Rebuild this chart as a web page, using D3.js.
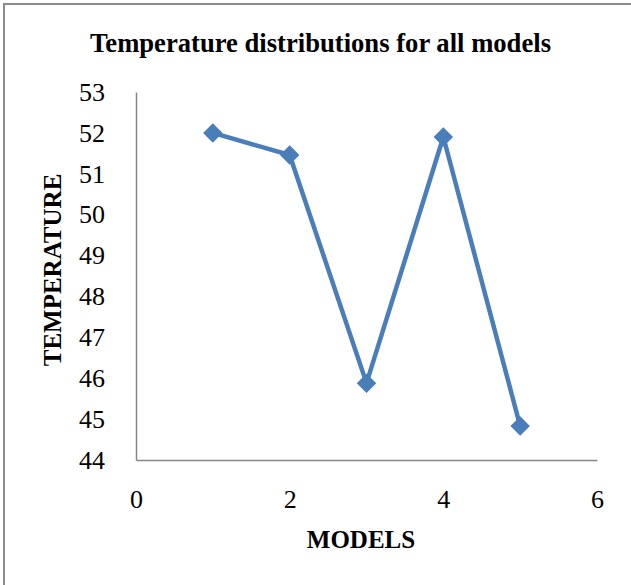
<!DOCTYPE html>
<html>
<head>
<meta charset="utf-8">
<script src="https://cdn.jsdelivr.net/npm/d3@7"></script>
<style>
  body { margin: 0; background: #fff; }
  svg { display: block; }
</style>
</head>
<body>
<div id="chart"></div>
<script>
// data
var models = [1, 2, 3, 4, 5];
var temperatures = [52.0, 51.46, 45.88, 51.9, 44.83];
var xTicks = [0, 2, 4, 6];
var yTicks = [44, 45, 46, 47, 48, 49, 50, 51, 52, 53];

var W = 631, H = 585;
var margin = { top: 92, right: 34, bottom: 125, left: 136 },
    width = W - margin.left - margin.right,
    height = H - margin.top - margin.bottom;

var svg = d3.select("#chart").append("svg")
    .attr("width", W)
    .attr("height", H);

// frame (only left and top show in the picture)
svg.append("rect")
    .attr("x", 4).attr("y", 4)
    .attr("width", W + 20).attr("height", H + 20)
    .attr("fill", "none")
    .attr("stroke", "#8c8c8c")
    .attr("stroke-width", 2);

var g = svg.append("g")
    .attr("transform", "translate(" + margin.left + "," + margin.top + ")");

var x = d3.scaleLinear().domain([0, 6]).range([0, width]);
var y = d3.scaleLinear().domain([44, 53]).range([height, 0]);

// axes
var xAxis = g.append("g")
    .attr("transform", "translate(0," + height + ")")
    .call(d3.axisBottom(x).tickValues(xTicks).tickFormat(d3.format("d"))
        .tickSize(0).tickPadding(29.5));

var yAxis = g.append("g")
    .call(d3.axisLeft(y).tickValues(yTicks).tickFormat(d3.format("d"))
        .tickSize(0).tickPadding(31));

[xAxis, yAxis].forEach(function(a) {
    a.select(".domain").attr("stroke", "#868686").attr("stroke-width", 1.5);
    a.selectAll("text")
        .attr("fill", "#000")
        .style("font-family", "'Liberation Serif', 'Times New Roman', serif")
        .style("font-size", "26px");
});

// line
var line = d3.line()
    .x(function(d, i) { return x(models[i]); })
    .y(function(d) { return y(d); });

g.append("path")
    .datum(temperatures)
    .attr("d", line)
    .attr("fill", "none")
    .attr("stroke", "#4a7ebb")
    .attr("stroke-width", 4.5)
    .attr("stroke-linejoin", "round");

// diamond markers
var diamond = d3.symbol().type(d3.symbolSquare).size(190);
g.selectAll(".marker")
    .data(temperatures)
    .enter().append("path")
    .attr("class", "marker")
    .attr("d", diamond)
    .attr("transform", function(d, i) {
        return "translate(" + x(models[i]) + "," + y(d) + ") rotate(45)";
    })
    .attr("fill", "#4a7ebb");

// title
svg.append("text")
    .attr("x", 320.5)
    .attr("y", 52)
    .attr("text-anchor", "middle")
    .attr("textLength", 461)
    .attr("lengthAdjust", "spacingAndGlyphs")
    .style("font-family", "'Liberation Serif', 'Times New Roman', serif")
    .style("font-weight", "bold")
    .style("font-size", "26.5px")
    .text("Temperature distributions for all models");

// x axis label
svg.append("text")
    .attr("x", 361)
    .attr("y", 548)
    .attr("text-anchor", "middle")
    .style("font-family", "'Liberation Serif', 'Times New Roman', serif")
    .style("font-weight", "bold")
    .style("font-size", "25px")
    .text("MODELS");

// y axis label
svg.append("text")
    .attr("transform", "translate(61,270) rotate(-90)")
    .attr("text-anchor", "middle")
    .style("font-family", "'Liberation Serif', 'Times New Roman', serif")
    .style("font-weight", "bold")
    .style("font-size", "25px")
    .text("TEMPERATURE");
</script>
</body>
</html>
